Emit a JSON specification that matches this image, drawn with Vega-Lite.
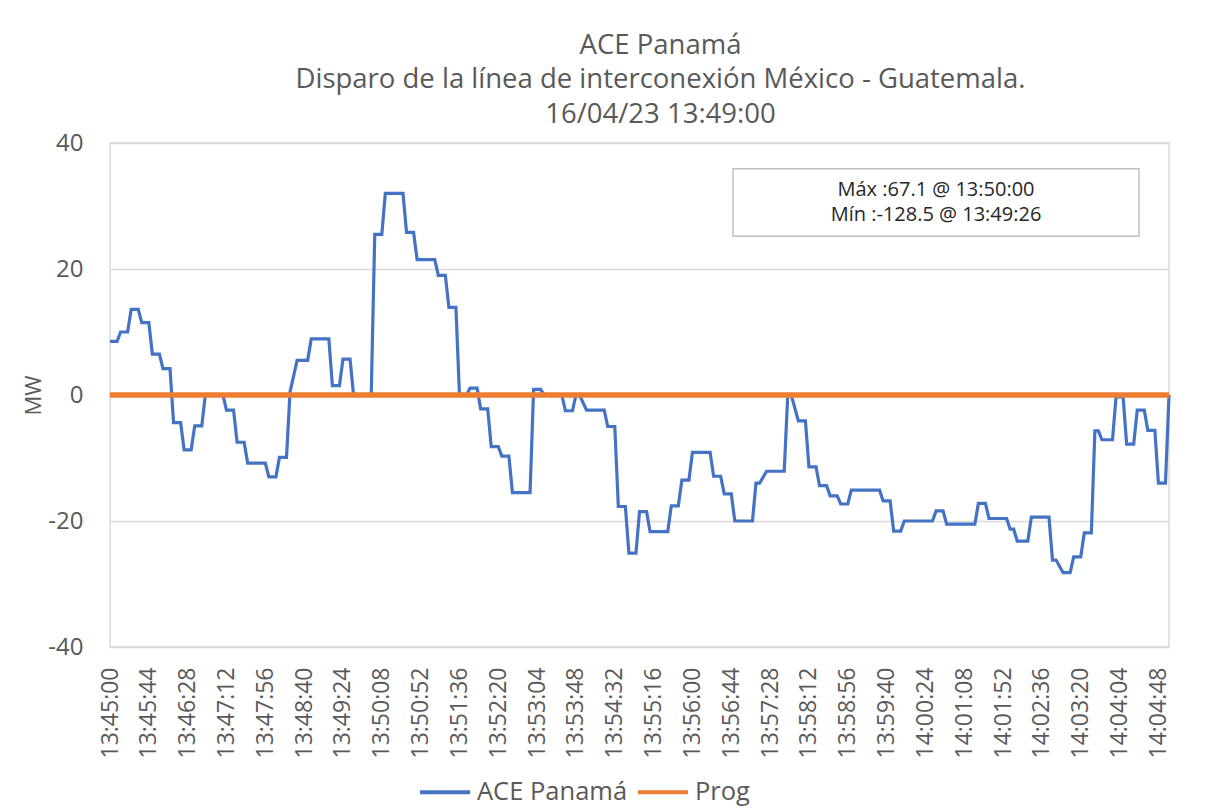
{
  "$schema": "https://vega.github.io/schema/vega-lite/v6.json",
  "autosize": {"type": "none"},
  "padding": {"left": 110, "top": 143, "right": 40, "bottom": 161},
  "width": 1059,
  "height": 504,
  "background": "white",
  "title": {
    "text": ["ACE Panamá", "Disparo de la línea de interconexión México - Guatemala.", "16/04/23 13:49:00"],
    "font": "Open Sans",
    "fontSize": 27.5,
    "fontWeight": "normal",
    "color": "#595959",
    "lineHeight": 34.5,
    "anchor": "middle",
    "frame": "group",
    "dx": 21,
    "offset": 3
  },
  "config": {
    "view": {"stroke": "#d9d9d9", "strokeWidth": 1.5},
    "font": "Open Sans"
  },
  "datasets": {
    "ace": [
      {"t": "2023-04-16T13:45:00", "mw": 8.5},
      {"t": "2023-04-16T13:45:08", "mw": 8.5},
      {"t": "2023-04-16T13:45:12", "mw": 10.0},
      {"t": "2023-04-16T13:45:20", "mw": 10.0},
      {"t": "2023-04-16T13:45:24", "mw": 13.6},
      {"t": "2023-04-16T13:45:32", "mw": 13.6},
      {"t": "2023-04-16T13:45:36", "mw": 11.5},
      {"t": "2023-04-16T13:45:44", "mw": 11.5},
      {"t": "2023-04-16T13:45:48", "mw": 6.5},
      {"t": "2023-04-16T13:45:56", "mw": 6.5},
      {"t": "2023-04-16T13:46:00", "mw": 4.2},
      {"t": "2023-04-16T13:46:08", "mw": 4.2},
      {"t": "2023-04-16T13:46:12", "mw": -4.4},
      {"t": "2023-04-16T13:46:20", "mw": -4.4},
      {"t": "2023-04-16T13:46:24", "mw": -8.7},
      {"t": "2023-04-16T13:46:32", "mw": -8.7},
      {"t": "2023-04-16T13:46:36", "mw": -4.9},
      {"t": "2023-04-16T13:46:44", "mw": -4.9},
      {"t": "2023-04-16T13:46:48", "mw": 0},
      {"t": "2023-04-16T13:47:08", "mw": 0},
      {"t": "2023-04-16T13:47:12", "mw": -2.4},
      {"t": "2023-04-16T13:47:20", "mw": -2.4},
      {"t": "2023-04-16T13:47:24", "mw": -7.5},
      {"t": "2023-04-16T13:47:32", "mw": -7.5},
      {"t": "2023-04-16T13:47:36", "mw": -10.8},
      {"t": "2023-04-16T13:47:56", "mw": -10.8},
      {"t": "2023-04-16T13:48:00", "mw": -13.0},
      {"t": "2023-04-16T13:48:08", "mw": -13.0},
      {"t": "2023-04-16T13:48:12", "mw": -9.9},
      {"t": "2023-04-16T13:48:20", "mw": -9.9},
      {"t": "2023-04-16T13:48:24", "mw": 0.5},
      {"t": "2023-04-16T13:48:32", "mw": 5.5},
      {"t": "2023-04-16T13:48:44", "mw": 5.5},
      {"t": "2023-04-16T13:48:48", "mw": 8.9},
      {"t": "2023-04-16T13:49:08", "mw": 8.9},
      {"t": "2023-04-16T13:49:12", "mw": 1.5},
      {"t": "2023-04-16T13:49:20", "mw": 1.5},
      {"t": "2023-04-16T13:49:24", "mw": 5.7},
      {"t": "2023-04-16T13:49:32", "mw": 5.7},
      {"t": "2023-04-16T13:49:36", "mw": 0},
      {"t": "2023-04-16T13:49:56", "mw": 0},
      {"t": "2023-04-16T13:50:00", "mw": 25.5},
      {"t": "2023-04-16T13:50:08", "mw": 25.5},
      {"t": "2023-04-16T13:50:12", "mw": 32.0},
      {"t": "2023-04-16T13:50:32", "mw": 32.0},
      {"t": "2023-04-16T13:50:36", "mw": 25.8},
      {"t": "2023-04-16T13:50:44", "mw": 25.8},
      {"t": "2023-04-16T13:50:48", "mw": 21.5},
      {"t": "2023-04-16T13:51:08", "mw": 21.5},
      {"t": "2023-04-16T13:51:12", "mw": 19.0},
      {"t": "2023-04-16T13:51:20", "mw": 19.0},
      {"t": "2023-04-16T13:51:24", "mw": 13.9},
      {"t": "2023-04-16T13:51:32", "mw": 13.9},
      {"t": "2023-04-16T13:51:36", "mw": 0},
      {"t": "2023-04-16T13:51:44", "mw": 0},
      {"t": "2023-04-16T13:51:48", "mw": 1.1},
      {"t": "2023-04-16T13:51:56", "mw": 1.1},
      {"t": "2023-04-16T13:52:00", "mw": -2.2},
      {"t": "2023-04-16T13:52:08", "mw": -2.2},
      {"t": "2023-04-16T13:52:12", "mw": -8.2},
      {"t": "2023-04-16T13:52:20", "mw": -8.2},
      {"t": "2023-04-16T13:52:24", "mw": -9.7},
      {"t": "2023-04-16T13:52:32", "mw": -9.7},
      {"t": "2023-04-16T13:52:36", "mw": -15.5},
      {"t": "2023-04-16T13:52:56", "mw": -15.5},
      {"t": "2023-04-16T13:53:00", "mw": 0.9},
      {"t": "2023-04-16T13:53:08", "mw": 0.9},
      {"t": "2023-04-16T13:53:12", "mw": 0},
      {"t": "2023-04-16T13:53:32", "mw": 0},
      {"t": "2023-04-16T13:53:36", "mw": -2.5},
      {"t": "2023-04-16T13:53:44", "mw": -2.5},
      {"t": "2023-04-16T13:53:48", "mw": 0},
      {"t": "2023-04-16T13:53:52", "mw": 0},
      {"t": "2023-04-16T13:54:00", "mw": -2.4},
      {"t": "2023-04-16T13:54:20", "mw": -2.4},
      {"t": "2023-04-16T13:54:24", "mw": -5.0},
      {"t": "2023-04-16T13:54:32", "mw": -5.0},
      {"t": "2023-04-16T13:54:36", "mw": -17.7},
      {"t": "2023-04-16T13:54:44", "mw": -17.7},
      {"t": "2023-04-16T13:54:48", "mw": -25.1},
      {"t": "2023-04-16T13:54:56", "mw": -25.1},
      {"t": "2023-04-16T13:55:00", "mw": -18.5},
      {"t": "2023-04-16T13:55:08", "mw": -18.5},
      {"t": "2023-04-16T13:55:12", "mw": -21.7},
      {"t": "2023-04-16T13:55:32", "mw": -21.7},
      {"t": "2023-04-16T13:55:36", "mw": -17.6},
      {"t": "2023-04-16T13:55:44", "mw": -17.6},
      {"t": "2023-04-16T13:55:48", "mw": -13.5},
      {"t": "2023-04-16T13:55:56", "mw": -13.5},
      {"t": "2023-04-16T13:56:00", "mw": -9.1},
      {"t": "2023-04-16T13:56:20", "mw": -9.1},
      {"t": "2023-04-16T13:56:24", "mw": -12.9},
      {"t": "2023-04-16T13:56:32", "mw": -12.9},
      {"t": "2023-04-16T13:56:36", "mw": -15.7},
      {"t": "2023-04-16T13:56:44", "mw": -15.7},
      {"t": "2023-04-16T13:56:48", "mw": -20.0},
      {"t": "2023-04-16T13:57:08", "mw": -20.0},
      {"t": "2023-04-16T13:57:12", "mw": -14.0},
      {"t": "2023-04-16T13:57:16", "mw": -14.0},
      {"t": "2023-04-16T13:57:24", "mw": -12.1},
      {"t": "2023-04-16T13:57:44", "mw": -12.1},
      {"t": "2023-04-16T13:57:48", "mw": 0},
      {"t": "2023-04-16T13:57:52", "mw": 0},
      {"t": "2023-04-16T13:58:00", "mw": -4.1},
      {"t": "2023-04-16T13:58:08", "mw": -4.1},
      {"t": "2023-04-16T13:58:12", "mw": -11.4},
      {"t": "2023-04-16T13:58:20", "mw": -11.4},
      {"t": "2023-04-16T13:58:24", "mw": -14.4},
      {"t": "2023-04-16T13:58:32", "mw": -14.4},
      {"t": "2023-04-16T13:58:36", "mw": -16.0},
      {"t": "2023-04-16T13:58:44", "mw": -16.0},
      {"t": "2023-04-16T13:58:48", "mw": -17.3},
      {"t": "2023-04-16T13:58:56", "mw": -17.3},
      {"t": "2023-04-16T13:59:00", "mw": -15.1},
      {"t": "2023-04-16T13:59:32", "mw": -15.1},
      {"t": "2023-04-16T13:59:36", "mw": -16.8},
      {"t": "2023-04-16T13:59:44", "mw": -16.8},
      {"t": "2023-04-16T13:59:48", "mw": -21.6},
      {"t": "2023-04-16T13:59:56", "mw": -21.6},
      {"t": "2023-04-16T14:00:00", "mw": -20.0},
      {"t": "2023-04-16T14:00:32", "mw": -20.0},
      {"t": "2023-04-16T14:00:36", "mw": -18.4},
      {"t": "2023-04-16T14:00:44", "mw": -18.4},
      {"t": "2023-04-16T14:00:48", "mw": -20.5},
      {"t": "2023-04-16T14:01:20", "mw": -20.5},
      {"t": "2023-04-16T14:01:24", "mw": -17.2},
      {"t": "2023-04-16T14:01:32", "mw": -17.2},
      {"t": "2023-04-16T14:01:36", "mw": -19.6},
      {"t": "2023-04-16T14:01:56", "mw": -19.6},
      {"t": "2023-04-16T14:02:00", "mw": -21.3},
      {"t": "2023-04-16T14:02:04", "mw": -21.3},
      {"t": "2023-04-16T14:02:08", "mw": -23.2},
      {"t": "2023-04-16T14:02:20", "mw": -23.2},
      {"t": "2023-04-16T14:02:24", "mw": -19.4},
      {"t": "2023-04-16T14:02:44", "mw": -19.4},
      {"t": "2023-04-16T14:02:48", "mw": -26.2},
      {"t": "2023-04-16T14:02:52", "mw": -26.2},
      {"t": "2023-04-16T14:03:00", "mw": -28.2},
      {"t": "2023-04-16T14:03:08", "mw": -28.2},
      {"t": "2023-04-16T14:03:12", "mw": -25.7},
      {"t": "2023-04-16T14:03:20", "mw": -25.7},
      {"t": "2023-04-16T14:03:24", "mw": -21.9},
      {"t": "2023-04-16T14:03:32", "mw": -21.9},
      {"t": "2023-04-16T14:03:36", "mw": -5.7},
      {"t": "2023-04-16T14:03:40", "mw": -5.7},
      {"t": "2023-04-16T14:03:44", "mw": -7.1},
      {"t": "2023-04-16T14:03:56", "mw": -7.1},
      {"t": "2023-04-16T14:04:00", "mw": -0.3},
      {"t": "2023-04-16T14:04:08", "mw": -0.3},
      {"t": "2023-04-16T14:04:12", "mw": -7.8},
      {"t": "2023-04-16T14:04:20", "mw": -7.8},
      {"t": "2023-04-16T14:04:24", "mw": -2.4},
      {"t": "2023-04-16T14:04:32", "mw": -2.4},
      {"t": "2023-04-16T14:04:36", "mw": -5.6},
      {"t": "2023-04-16T14:04:44", "mw": -5.6},
      {"t": "2023-04-16T14:04:48", "mw": -14.0},
      {"t": "2023-04-16T14:04:56", "mw": -14.0},
      {"t": "2023-04-16T14:05:00", "mw": 0}
    ],
    "prog": [
      {"t": "2023-04-16T13:45:00", "mw": 0},
      {"t": "2023-04-16T14:05:00", "mw": 0}
    ],
    "box": [
      {"t": "2023-04-16T13:56:46", "t2": "2023-04-16T14:04:26", "mw": 35.9, "mw2": 25.2}
    ],
    "notes": [
      {"t": "2023-04-16T14:00:36", "mw": 32.6, "label": "Máx :67.1 @ 13:50:00"},
      {"t": "2023-04-16T14:00:36", "mw": 28.6, "label": "Mín :-128.5 @ 13:49:26"}
    ]
  },
  "encoding": {
    "x": {
      "field": "t",
      "type": "temporal",
      "title": null,
      "scale": {
        "domain": [
          {"year": 2023, "month": 4, "date": 16, "hours": 13, "minutes": 45, "seconds": 0},
          {"year": 2023, "month": 4, "date": 16, "hours": 14, "minutes": 5, "seconds": 0}
        ],
        "nice": false
      },
      "axis": {
        "format": "%H:%M:%S",
        "labelAngle": -90,
        "labelFont": "Open Sans",
        "labelFontSize": 23,
        "labelColor": "#595959",
        "labelPadding": 20,
        "labelOverlap": false,
        "labelFlush": false,
        "ticks": false,
        "domain": false,
        "grid": false,
        "values": [
          {"year": 2023, "month": 4, "date": 16, "hours": 13, "minutes": 45, "seconds": 0},
          {"year": 2023, "month": 4, "date": 16, "hours": 13, "minutes": 45, "seconds": 44},
          {"year": 2023, "month": 4, "date": 16, "hours": 13, "minutes": 46, "seconds": 28},
          {"year": 2023, "month": 4, "date": 16, "hours": 13, "minutes": 47, "seconds": 12},
          {"year": 2023, "month": 4, "date": 16, "hours": 13, "minutes": 47, "seconds": 56},
          {"year": 2023, "month": 4, "date": 16, "hours": 13, "minutes": 48, "seconds": 40},
          {"year": 2023, "month": 4, "date": 16, "hours": 13, "minutes": 49, "seconds": 24},
          {"year": 2023, "month": 4, "date": 16, "hours": 13, "minutes": 50, "seconds": 8},
          {"year": 2023, "month": 4, "date": 16, "hours": 13, "minutes": 50, "seconds": 52},
          {"year": 2023, "month": 4, "date": 16, "hours": 13, "minutes": 51, "seconds": 36},
          {"year": 2023, "month": 4, "date": 16, "hours": 13, "minutes": 52, "seconds": 20},
          {"year": 2023, "month": 4, "date": 16, "hours": 13, "minutes": 53, "seconds": 4},
          {"year": 2023, "month": 4, "date": 16, "hours": 13, "minutes": 53, "seconds": 48},
          {"year": 2023, "month": 4, "date": 16, "hours": 13, "minutes": 54, "seconds": 32},
          {"year": 2023, "month": 4, "date": 16, "hours": 13, "minutes": 55, "seconds": 16},
          {"year": 2023, "month": 4, "date": 16, "hours": 13, "minutes": 56, "seconds": 0},
          {"year": 2023, "month": 4, "date": 16, "hours": 13, "minutes": 56, "seconds": 44},
          {"year": 2023, "month": 4, "date": 16, "hours": 13, "minutes": 57, "seconds": 28},
          {"year": 2023, "month": 4, "date": 16, "hours": 13, "minutes": 58, "seconds": 12},
          {"year": 2023, "month": 4, "date": 16, "hours": 13, "minutes": 58, "seconds": 56},
          {"year": 2023, "month": 4, "date": 16, "hours": 13, "minutes": 59, "seconds": 40},
          {"year": 2023, "month": 4, "date": 16, "hours": 14, "minutes": 0, "seconds": 24},
          {"year": 2023, "month": 4, "date": 16, "hours": 14, "minutes": 1, "seconds": 8},
          {"year": 2023, "month": 4, "date": 16, "hours": 14, "minutes": 1, "seconds": 52},
          {"year": 2023, "month": 4, "date": 16, "hours": 14, "minutes": 2, "seconds": 36},
          {"year": 2023, "month": 4, "date": 16, "hours": 14, "minutes": 3, "seconds": 20},
          {"year": 2023, "month": 4, "date": 16, "hours": 14, "minutes": 4, "seconds": 4},
          {"year": 2023, "month": 4, "date": 16, "hours": 14, "minutes": 4, "seconds": 48}
        ]
      }
    },
    "y": {
      "field": "mw",
      "type": "quantitative",
      "title": "MW",
      "scale": {"domain": [-40, 40], "nice": false, "zero": false},
      "axis": {
        "values": [-40, -20, 0, 20, 40],
        "labelExpr": "'' + datum.value",
        "labelFont": "Open Sans",
        "labelFontSize": 24,
        "labelColor": "#595959",
        "labelPadding": 27,
        "ticks": false,
        "domain": false,
        "grid": true,
        "gridColor": "#d9d9d9",
        "gridWidth": 1.5,
        "titleFont": "Open Sans",
        "titleFontSize": 22,
        "titleFontWeight": "normal",
        "titleColor": "#595959",
        "titlePadding": 2
      }
    }
  },
  "layer": [
    {
      "data": {"name": "ace"},
      "mark": {"type": "line", "strokeWidth": 3.2, "interpolate": "linear"},
      "encoding": {
        "color": {
          "datum": "ACE Panamá",
          "type": "nominal",
          "scale": {"domain": ["ACE Panamá", "Prog"], "range": ["#4472C4", "#ED7D31"]},
          "legend": {
            "title": null,
            "orient": "none",
            "legendX": 308,
            "legendY": 622,
            "direction": "horizontal",
            "symbolType": "stroke",
            "symbolSize": 2500,
            "symbolStrokeWidth": 4,
            "labelFont": "Open Sans",
            "labelFontSize": 25.5,
            "labelColor": "#595959",
            "labelOffset": 5,
            "columnPadding": 2
          }
        }
      }
    },
    {
      "data": {"name": "prog"},
      "mark": {"type": "line", "strokeWidth": 5.5},
      "encoding": {
        "color": {"datum": "Prog", "type": "nominal"}
      }
    },
    {
      "data": {"name": "box"},
      "mark": {"type": "rect", "fill": "white", "stroke": "#bfbfbf", "strokeWidth": 1.5},
      "encoding": {
        "x2": {"field": "t2"},
        "y2": {"field": "mw2"}
      }
    },
    {
      "data": {"name": "notes"},
      "mark": {"type": "text", "font": "Open Sans", "fontSize": 20, "color": "#262626", "align": "center", "baseline": "middle"},
      "encoding": {
        "text": {"field": "label"}
      }
    }
  ]
}
